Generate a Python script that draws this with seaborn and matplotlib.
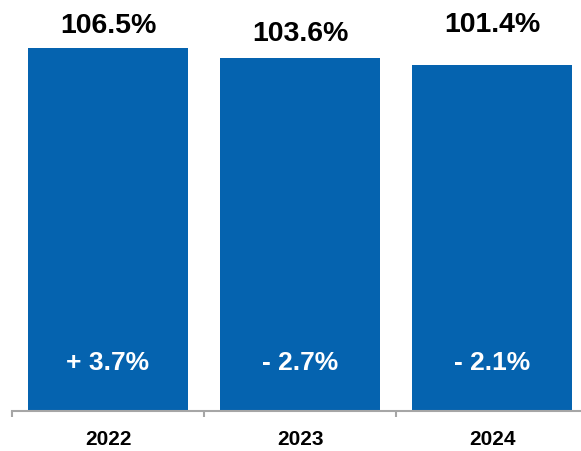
import matplotlib
matplotlib.use("Agg")
import matplotlib.pyplot as plt
import seaborn as sns
import pandas as pd

# Index values by year and year-over-year change
years = ["2022", "2023", "2024"]
index_values = [106.5, 103.6, 101.4]
changes = ["+ 3.7%", "- 2.7%", "- 2.1%"]

sns.set_style("white")
plt.rcParams["font.family"] = ["Liberation Sans", "DejaVu Sans"]

BLUE = "#0563AF"
GREY = "#A6A6A6"

df = pd.DataFrame({"year": years, "value": index_values})

fig = plt.figure(figsize=(5.81, 4.52), dpi=100)
ax = fig.add_axes([12 / 581, 40 / 452, 576 / 581, 412 / 452])

sns.barplot(data=df, x="year", y="value", color=BLUE, saturation=1,
            width=160 / 192, linewidth=0, ax=ax)

ax.set_xlim(-0.5, len(years) - 0.5)
ax.set_ylim(0, 412 / 3.41)

# value labels above the bars (baseline offsets in points)
top_offsets = [11.5, 12.5, 24.3]
for i, (v, off) in enumerate(zip(index_values, top_offsets)):
    ax.annotate(f"{v:.1f}%", xy=(i, v), xytext=(0, off), textcoords="offset points",
                ha="center", va="baseline", fontsize=20.5, fontweight="bold",
                color="black")

# change labels inside the bars
for i, c in enumerate(changes):
    ax.annotate(c, xy=(i, 0), xytext=(0, 30), textcoords="offset points",
                ha="center", va="baseline", fontsize=19, fontweight="bold",
                color="white")

# category boundary ticks and centered year labels
ax.set_xticks([-0.5 + k for k in range(len(years) + 1)])
ax.set_xticklabels([])
ax.tick_params(axis="x", which="major", length=4.3, width=1.5, color=GREY,
               direction="out", bottom=True)
ax.set_xticks(range(len(years)), minor=True)
ax.set_xticklabels(years, minor=True, fontsize=15, fontweight="bold", color="black")
ax.tick_params(axis="x", which="minor", length=0, pad=13, labelcolor="black")

ax.set_xlabel("")
ax.set_ylabel("")
ax.set_yticks([])
for side in ["top", "right", "left"]:
    ax.spines[side].set_visible(False)
ax.spines["bottom"].set_color(GREY)
ax.spines["bottom"].set_linewidth(1.5)

fig.savefig("out.png", dpi=100)
